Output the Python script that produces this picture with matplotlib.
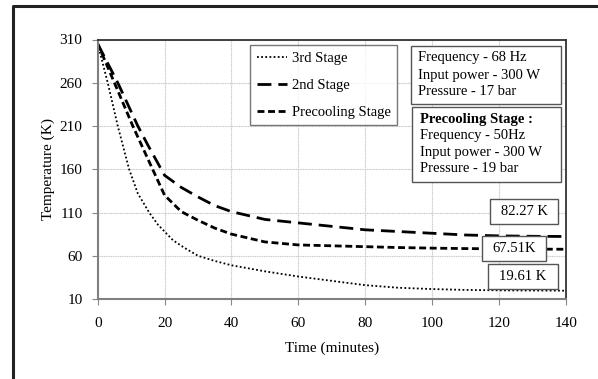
import numpy as np
import matplotlib
matplotlib.use('Agg')
import matplotlib.pyplot as plt
from matplotlib.lines import Line2D
from matplotlib.patches import Rectangle

plt.rcParams['font.family'] = ['Liberation Serif', 'DejaVu Serif']

# values
t_3rd = [0, 3, 6, 9.4, 12, 15.4, 18, 22.5, 26, 30, 35, 40, 50, 60, 70, 80, 90, 100, 110, 120, 130, 140]
temp_3rd = [305, 260, 210, 160, 132, 110, 96, 78, 69, 60, 54, 49, 42, 36, 31, 26, 23, 21.5, 20.5, 20, 19.8, 19.61]

t_2nd = [0, 6, 12, 15, 20, 25, 30, 35, 40, 50, 60, 70, 80, 90, 100, 110, 120, 130, 140]
temp_2nd = [305, 260, 210, 188, 153, 139, 128, 118, 111, 102, 98, 94, 90, 88, 86, 84, 83, 82.5, 82.27]

t_pre = [0, 5, 10.5, 15, 20, 25, 30, 35, 40, 50, 60, 70, 80, 90, 100, 110, 120, 130, 140]
temp_pre = [305, 260, 210, 172, 130, 111, 101, 92, 85, 76, 72.5, 71.5, 70.5, 69.5, 68.8, 68.3, 68, 67.7, 67.51]

final_labels = ['82.27 K', '67.51K', '19.61 K']

W, H = 598, 379
fig = plt.figure(figsize=(W / 100, H / 100), dpi=100)
ax = fig.add_axes([97.7 / W, 1 - 299 / H, 468 / W, 259.5 / H])

ax.plot(t_3rd, temp_3rd, color='black', lw=1.3, linestyle=(0, (1, 1.3)), label='3rd Stage')
ax.plot(t_2nd, temp_2nd, color='black', lw=2, linestyle=(0, (5, 2.5)), label='2nd Stage')
ax.plot(t_pre, temp_pre, color='black', lw=2, linestyle=(0, (2.5, 1.3)), label='Precooling Stage')

ax.set_xlim(0, 140)
ax.set_ylim(10, 310)
ax.set_xticks(np.arange(0, 141, 20))
ax.set_yticks(np.arange(10, 311, 50))
ax.tick_params(labelsize=11, direction='out', length=4, color='#888888')
ax.tick_params(axis='x', pad=9)
ax.tick_params(axis='y', pad=7)
ax.grid(True, color='#c8c8c8', lw=0.8, linestyle=(0, (1, 0.6)))
ax.set_axisbelow(True)
for s in ['left', 'bottom']:
    ax.spines[s].set_color('#808080')
    ax.spines[s].set_linewidth(1.5)
for s in ['top', 'right']:
    ax.spines[s].set_color('#333333')
    ax.spines[s].set_linewidth(1.3)

ax.set_xlabel('Time (minutes)', fontsize=11, labelpad=8)
ax.set_ylabel('Temperature (K)', fontsize=11, labelpad=3)

leg = ax.legend(loc='upper left', bbox_to_anchor=((250 - 97.7) / 468, (299 - 45) / 259.5),
                borderaxespad=0, fontsize=10.5,
                frameon=True, fancybox=False, edgecolor='#555555',
                handlelength=2.1, handletextpad=0.3, labelspacing=0.95,
                borderpad=0.45)
leg.get_frame().set_linewidth(1.0)


def px_box(x0, y0, x1, y1):
    fig.add_artist(Rectangle((x0 / W, 1 - y1 / H), (x1 - x0) / W, (y1 - y0) / H,
                             transform=fig.transFigure, facecolor='white',
                             edgecolor='#555555', lw=1.0))


def px_text(x, y, s, **kw):
    fig.text(x / W, 1 - y / H, s, fontsize=10.5, va='center', **kw)


# settings boxes
px_box(410.7, 46, 560.7, 104)
px_text(418, 58, 'Frequency - 68 Hz')
px_text(418, 75, 'Input power - 300 W')
px_text(418, 91.5, 'Pressure - 17 bar')

px_box(412.3, 106.7, 560.7, 181.7)
px_text(420, 120, 'Precooling Stage :', fontweight='bold')
px_text(420, 136, 'Frequency - 50Hz')
px_text(420, 152.5, 'Input power - 300 W')
px_text(420, 168.5, 'Pressure - 19 bar')

# final temperature labels
px_box(490, 199, 558, 224)
px_text(524, 211.5, final_labels[0], ha='center')
px_box(482, 236, 545.7, 260.7)
px_text(514, 248.3, final_labels[1], ha='center')
px_box(488, 264, 557.7, 289)
px_text(523, 276.5, final_labels[2], ha='center')

# outer frame (top and left edges only)
fig.add_artist(Line2D([13 / W, 13 / W, 1], [0, 1 - 6 / H, 1 - 6 / H],
                      transform=fig.transFigure, color='#222222', lw=2.2))

fig.savefig('out.png', dpi=100)
